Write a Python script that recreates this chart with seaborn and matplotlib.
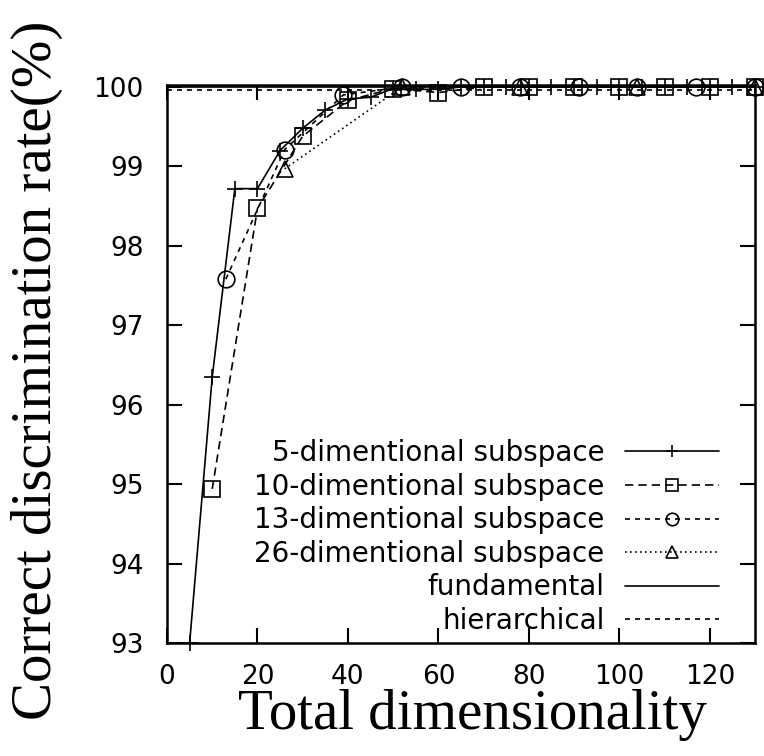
import matplotlib
matplotlib.use("Agg")
import matplotlib.pyplot as plt
import seaborn as sns
import numpy as np

# ---- data ----
x5 = [5, 10, 15, 20, 25, 30, 35, 40, 45, 50, 55, 60, 65, 70, 75, 80, 85, 90,
      95, 100, 105, 110, 115, 120, 125, 130]
y5 = [93.0, 96.35, 98.72, 98.72, 99.2, 99.48, 99.71, 99.85, 99.87, 99.98,
      99.97, 99.97, 100, 100, 100, 100, 100, 100, 100, 100, 100, 100, 100,
      100, 100, 100]
x10 = [10, 20, 30, 40, 50, 60, 70, 80, 90, 100, 110, 120, 130]
y10 = [94.94, 98.47, 99.38, 99.83, 99.98, 99.93, 100, 100, 100, 100, 100, 100, 100]
x13 = [13, 26, 39, 52, 65, 78, 91, 104, 117, 130]
y13 = [97.58, 99.21, 99.9, 100, 100, 100, 100, 100, 100, 100]
x26 = [26, 52, 78, 104, 130]
y26 = [98.97, 100, 100, 100, 100]
x_ref = [0, 130]
y_fund = [100.0, 100.0]
y_hier = [99.96, 99.96]

labels = ["5-dimentional subspace", "10-dimentional subspace",
          "13-dimentional subspace", "26-dimentional subspace",
          "fundamental", "hierarchical"]
xticks = [0, 20, 40, 60, 80, 100, 120]
yticks = [93, 94, 95, 96, 97, 98, 99, 100]

sns.set_style("ticks")
plt.rcParams['font.family'] = ['DejaVu Sans']
plt.rcParams['text.color'] = 'black'
plt.rcParams['axes.labelcolor'] = 'black'
plt.rcParams['xtick.color'] = 'black'
plt.rcParams['ytick.color'] = 'black'

fig = plt.figure(figsize=(7.64, 7.56), dpi=100)
ax = fig.add_axes([0.2186, 0.1495, 0.7696, 0.7381])

lw = 1.2
common = dict(ax=ax, color="black", linewidth=lw, markersize=12,
              markeredgewidth=1.2, markeredgecolor="black", errorbar=None,
              clip_on=False)
sns.lineplot(x=x5, y=y5, marker="+", linestyle="-", label=labels[0], **common)
sns.lineplot(x=x10, y=y10, marker="s", linestyle=(0, (5, 3)), fillstyle="none",
             label=labels[1], **common)
sns.lineplot(x=x13, y=y13, marker="o", linestyle=(0, (3, 3)), fillstyle="none",
             label=labels[2], **common)
sns.lineplot(x=x26, y=y26, marker="^", linestyle=(0, (1, 2)), fillstyle="none",
             label=labels[3], **common)
sns.lineplot(x=x_ref, y=y_fund, linestyle="-", label=labels[4], ax=ax,
             color="black", linewidth=lw, errorbar=None)
sns.lineplot(x=x_ref, y=y_hier, linestyle=(0, (3, 3)), label=labels[5], ax=ax,
             color="black", linewidth=lw, errorbar=None)

ax.set_xlim(0, 130)
ax.set_ylim(93, 100.025)
ax.set_xticks(xticks)
ax.set_yticks(yticks)
ax.set_xticklabels([str(t) for t in xticks])
ax.set_yticklabels([str(t) for t in yticks])
ax.tick_params(direction="in", length=10.8, width=1.5, top=True, right=True,
               labelsize=19, colors="black")
ax.tick_params(axis="y", pad=17)
ax.tick_params(axis="x", pad=15)
for s in ax.spines.values():
    s.set_linewidth(1.8)
    s.set_color("black")

ax.set_xlabel("Total dimensionality", family="Liberation Serif", fontsize=41,
              color="black")
ax.set_ylabel("Correct discrimination rate(%)", family="Liberation Serif",
              fontsize=41, color="black")
ax.xaxis.set_label_coords(0.519, -0.082)
ax.yaxis.set_label_coords(-0.177, 0.489)

handles, labs = ax.get_legend_handles_labels()
leg = ax.legend(handles, labs, loc="lower right", bbox_to_anchor=(0.9388, 0.0143),
                frameon=False, markerfirst=False, handlelength=3.4,
                handletextpad=0.72, fontsize=20, labelspacing=0.2,
                markerscale=0.75, borderpad=0, borderaxespad=0)
for t in leg.get_texts():
    t.set_color("black")

fig.savefig("out.png", dpi=100)
